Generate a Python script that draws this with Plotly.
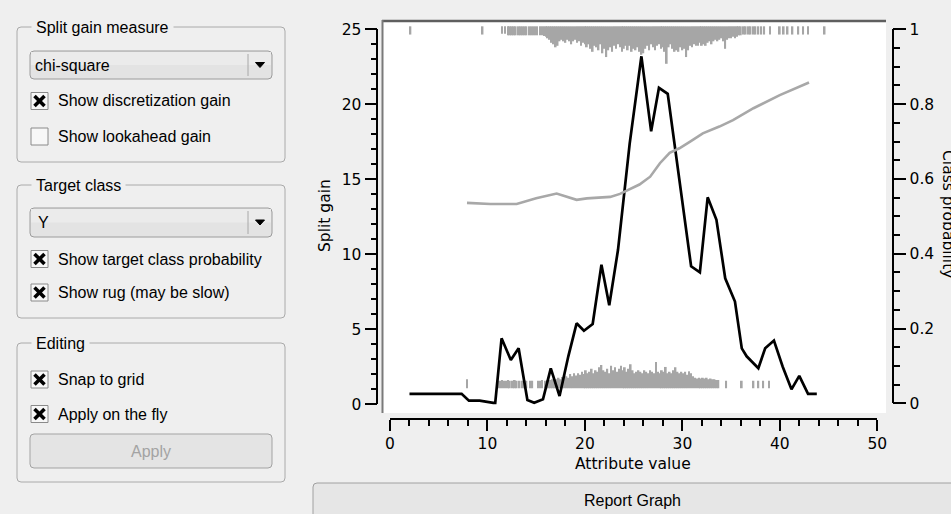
import plotly.graph_objects as go

W, H = 951, 514

# ---------------- data ----------------
gain_x = [2.0, 7.35, 8.1, 9.2, 10.6, 10.8, 11.45, 12.4, 13.2, 14.1, 14.8, 15.7, 16.5, 17.4,
          18.3, 19.15, 19.9, 20.8, 21.7, 22.5, 23.4, 24.6, 25.8, 26.8, 27.6, 28.5, 30.9, 31.8,
          32.6, 33.5, 34.4, 35.4, 36.1, 36.6, 37.8, 38.5, 39.4, 40.3, 41.2, 42.0, 42.9, 43.8]
gain_y = [0.7, 0.7, 0.24, 0.24, 0.1, 0.1, 4.4, 2.95, 3.73, 0.29, 0.1, 0.33, 2.4, 0.55,
          3.2, 5.4, 4.9, 5.35, 9.3, 6.6, 10.3, 17.4, 23.2, 18.2, 21.1, 20.7, 9.2, 8.8,
          13.8, 12.3, 8.4, 6.85, 3.73, 3.2, 2.4, 3.73, 4.25, 2.5, 1.0, 1.9, 0.69, 0.69]

prob_x = [7.9, 10.3, 13.0, 15.0, 17.1, 18.1, 19.15, 20.2, 22.6, 23.6, 24.6, 25.6, 26.7,
          27.7, 28.7, 29.7, 30.8, 32.1, 33.8, 35.2, 37.3, 40.0, 43.0]
prob_y = [0.536, 0.533, 0.533, 0.548, 0.561, 0.552, 0.544, 0.548, 0.552, 0.56, 0.572, 0.585,
          0.606, 0.642, 0.670, 0.682, 0.70, 0.722, 0.74, 0.757, 0.789, 0.824, 0.858]

# rug of target-class instances (hangs from the top), lengths in split-gain units
top_rug_x = [2.1, 9.5, 11.5, 11.8,
             12.1, 12.3, 12.5, 12.7, 12.9, 13.2, 13.4, 13.6, 13.8, 14.0, 14.3, 14.5, 14.7, 14.9, 15.1, 15.4, 15.6, 15.8, 16.0, 16.2, 16.4,
             16.6, 16.8, 17.0, 17.2, 17.4, 17.6, 17.8, 18.0, 18.2, 18.4, 18.6, 18.8, 19.0, 19.2, 19.4, 19.6, 19.8, 20.0, 20.2, 20.4,
             20.6, 20.8, 21.0, 21.2, 21.4, 21.6, 21.8, 22.0, 22.2, 22.4, 22.6, 22.8, 23.0, 23.2, 23.4, 23.6, 23.8, 24.0, 24.2, 24.4,
             24.6, 24.8, 25.0, 25.2, 25.4, 25.6, 25.8, 26.0, 26.2, 26.4, 26.6, 26.8, 27.0, 27.2, 27.4, 27.6, 27.8, 28.0, 28.2, 28.4,
             28.6, 28.8, 29.0, 29.2, 29.4, 29.6, 29.8, 30.0, 30.2, 30.4, 30.6, 30.8, 31.0, 31.2, 31.4, 31.6, 31.8, 32.0, 32.2, 32.4,
             32.6, 32.8, 33.0, 33.2, 33.4, 33.6, 33.8, 34.0, 34.2, 34.4, 34.6, 34.8, 35.0, 35.2, 35.4, 35.6, 35.8, 36.0, 36.3, 36.5,
             36.8, 37.0, 37.3, 37.5, 37.8, 38.1, 38.4, 39.0, 40.0, 40.4, 40.8, 41.3, 41.9, 42.4, 42.9, 44.6]
top_rug_len = [0.55, 0.55, 0.5, 0.5,
               0.6, 0.6, 0.6, 0.6, 0.6, 0.6, 0.6, 0.6, 0.6, 0.6, 0.6, 0.6, 0.6, 0.6, 0.6, 0.6, 0.6, 0.65, 0.7, 0.8, 0.9,
               1.1, 1.2, 1.4, 1.3, 1.0, 0.9, 1.0, 1.1, 0.9, 1.0, 1.2, 1.0, 0.9, 1.1, 1.0, 1.3, 1.1, 1.2, 1.4, 1.2,
               1.5, 1.7, 1.3, 1.4, 1.6, 1.2, 1.8, 1.5, 2.05, 1.6, 1.4, 1.7, 1.3, 1.5, 1.2, 1.4, 1.7, 1.5, 1.3, 1.6,
               1.3, 1.7, 1.5, 1.6, 1.4, 1.7, 1.9, 1.8, 1.5, 1.3, 1.6, 1.2, 1.4, 1.6, 1.3, 1.2, 1.5, 1.4, 1.7, 2.5,
               1.4, 1.2, 1.5, 1.7, 1.6, 1.7, 1.4, 1.6, 1.5, 2.05, 1.6, 1.3, 1.4, 1.2, 1.3, 1.3, 1.1, 1.3, 1.2, 1.3,
               1.1, 1.0, 1.2, 1.0, 0.9, 1.0, 0.9, 0.8, 1.0, 1.5, 0.9, 0.8, 0.8, 0.7, 0.8, 0.7, 0.6, 0.6, 0.55, 0.55,
               0.55, 0.55, 0.55, 0.55, 0.55, 0.55, 0.55, 0.55, 0.55, 0.55, 0.55, 0.55, 0.55, 0.55, 0.55, 0.55]

# rug of the other instances (rises from the bottom)
bot_rug_x = [7.9,
             11.1, 11.3, 11.5, 11.7, 11.9, 12.1, 12.3, 12.6, 12.8, 13.0, 13.3, 13.6, 13.8, 14.0, 14.4, 14.6,
             15.2, 15.4, 15.6, 15.9, 16.1, 16.3, 16.5, 16.7, 16.9, 17.1, 17.3, 17.5, 17.7, 17.9, 18.1, 18.3, 18.5, 18.7, 18.9, 19.1,
             19.3, 19.5, 19.7, 19.9, 20.1, 20.3, 20.5, 20.7, 20.9, 21.1, 21.3, 21.5, 21.7, 21.9, 22.1, 22.3, 22.5, 22.7, 22.9, 23.1,
             23.3, 23.5, 23.7, 23.9, 24.1, 24.3, 24.5, 24.7, 24.9, 25.1, 25.3, 25.5, 25.7, 25.9, 26.1, 26.3, 26.5, 26.7, 26.9, 27.1,
             27.3, 27.5, 27.7, 27.9, 28.1, 28.3, 28.5, 28.7, 28.9, 29.1, 29.3, 29.5, 29.7, 29.9, 30.1, 30.3, 30.5, 30.7, 30.9, 31.1,
             31.3, 31.5, 31.7, 31.9, 32.1, 32.3, 32.5, 32.7, 32.9, 33.1, 33.3, 33.5, 33.7, 34.5, 36.1, 37.3, 37.8, 38.3, 38.9]
bot_rug_len = [0.6,
               0.5, 0.5, 0.55, 0.5, 0.5, 0.55, 0.5, 0.5, 0.55, 0.5, 0.5, 0.5, 0.55, 0.5, 0.5, 0.5,
               0.5, 0.5, 0.55, 0.5, 0.55, 0.5, 0.55, 0.6, 0.55, 0.6, 0.7, 0.6, 0.75, 0.9, 0.8, 0.7, 0.95, 0.8, 1.0, 0.85,
               1.0, 0.9, 1.1, 0.95, 1.2, 1.0, 1.1, 1.3, 1.0, 1.2, 1.1, 1.4, 1.55, 1.2, 1.1, 1.3, 1.0, 1.5, 1.2, 1.4,
               1.1, 1.3, 1.5, 1.2, 1.4, 1.1, 1.3, 1.6, 1.2, 1.0, 1.1, 1.2, 1.1, 1.0, 1.2, 1.1, 1.0, 1.2, 1.1, 1.0,
               1.75, 1.1, 1.0, 1.2, 1.1, 1.42, 1.0, 1.1, 1.0, 1.2, 1.4, 1.1, 1.0, 1.1, 1.0, 1.1, 0.9, 1.13, 1.0, 0.8,
               0.7, 0.65, 0.7, 0.65, 0.7, 0.65, 0.7, 0.6, 0.65, 0.6, 0.6, 0.55, 0.55, 0.5, 0.5, 0.5, 0.5, 0.5, 0.5]

TOP_RUG_BASE = 25.2
BOT_RUG_BASE = 1.07

x_ticks = [0, 10, 20, 30, 40, 50]
gain_ticks = [0, 5, 10, 15, 20, 25]
prob_ticks = [0, 0.2, 0.4, 0.6, 0.8, 1]
prob_tick_text = ["0", "0.2", "0.4", "0.6", "0.8", "1"]

# ---------------- helpers (layout only) ----------------
def px(x):
    return x / W


def py(y):
    return 1 - y / H


def rrect_path(x0, y0, x1, y1, r):
    a, b, c, d = px(x0), px(x1), py(y0), py(y1)
    rx, ry = r / W, r / H
    return (f"M{a+rx},{c} L{b-rx},{c} Q{b},{c} {b},{c-ry} L{b},{d+ry} Q{b},{d} {b-rx},{d} "
            f"L{a+rx},{d} Q{a},{d} {a},{d+ry} L{a},{c-ry} Q{a},{c} {a+rx},{c} Z")


shapes = []
annotations = []
UI_FONT = dict(family="Liberation Sans, Arial, sans-serif", size=16, color="black")
CH_FONT = dict(family="DejaVu Sans, sans-serif", size=15.5, color="black")


def add_rrect(x0, y0, x1, y1, r, line, fill, width=1):
    shapes.append(dict(type="path", xref="paper", yref="paper", path=rrect_path(x0, y0, x1, y1, r),
                       line=dict(color=line, width=width), fillcolor=fill, layer="below"))


def add_line(x0, y0, x1, y1, color, width, layer="above"):
    shapes.append(dict(type="line", xref="paper", yref="paper", x0=px(x0), y0=py(y0), x1=px(x1), y1=py(y1),
                       line=dict(color=color, width=width), layer=layer))


def add_text(text, x, y, anchor="left", font=UI_FONT, bg=None, pad=1, angle=0):
    a = dict(text=text, x=px(x), y=py(y), xref="paper", yref="paper", xanchor=anchor, yanchor="middle",
             showarrow=False, font=font, borderpad=pad, textangle=angle)
    if bg:
        a["bgcolor"] = bg
    annotations.append(a)


BG = "#efefef"

# group boxes
for (y0, y1, title) in [(27, 162, "Split gain measure"), (185, 318, "Target class"), (343, 482, "Editing")]:
    add_rrect(17, y0, 285, y1, 4, "#aaaaaa", "rgba(0,0,0,0)")
    add_text(title, 31, y0, bg=BG, pad=4)

# combo boxes
for (y0, y1, label, tx) in [(51, 79, "chi-square", 34), (208, 237, "Y", 37)]:
    add_rrect(30, y0, 272, y1, 4, "#9c9c9c", "#e3e3e3")
    shapes.append(dict(type="rect", xref="paper", yref="paper", x0=px(31), x1=px(271), y0=py((y0 + y1) / 2),
                       y1=py(y0 + 1), line=dict(width=0), fillcolor="#ebebeb", layer="below"))
    add_line(248, y0 + 3, 248, y1 - 3, "#a8a8a8", 1)
    cy = (y0 + y1) / 2
    shapes.append(dict(type="path", xref="paper", yref="paper",
                       path=f"M{px(255.5)},{py(cy-2.5)} L{px(264.5)},{py(cy-2.5)} L{px(260)},{py(cy+2.5)} Z",
                       fillcolor="black", line=dict(color="black", width=1)))
    add_text(label, tx - 1, cy)

# checkboxes
checks = [(101, True, "Show discretization gain"), (136.5, False, "Show lookahead gain"),
          (259, True, "Show target class probability"), (292.5, True, "Show rug (may be slow)"),
          (379.5, True, "Snap to grid"), (414, True, "Apply on the fly")]
for cy, on, label in checks:
    shapes.append(dict(type="rect", xref="paper", yref="paper", x0=px(31), x1=px(48), y0=py(cy - 8.5),
                       y1=py(cy + 8.5), line=dict(color="#8a8a8a", width=1), fillcolor="#f7f7f7"))
    if on:
        add_line(34.5, cy - 5, 44.5, cy + 5, "black", 3.6)
        add_line(44.5, cy - 5, 34.5, cy + 5, "black", 3.6)
    add_text(label, 56, cy)

# Apply button
add_rrect(30, 434, 272, 468, 4, "#a3a3a3", "#e4e4e4")
add_text("Apply", 151, 451, anchor="center", font=dict(UI_FONT, color="#a3a3a3"))

# Report Graph button
add_rrect(313, 483, 975, 530, 4, "#a0a0a0", "#e6e6e6")
add_text("Report Graph", 632, 500, anchor="center")

# plot area background and sunken frame
shapes.append(dict(type="rect", xref="paper", yref="paper", x0=px(382), x1=px(886), y0=py(413), y1=py(20),
                   line=dict(width=0), fillcolor="white", layer="below"))
add_line(382, 21, 886, 21, "#5f5f5f", 2.5)
add_line(382.5, 20, 382.5, 413, "#7a7a7a", 2)

# axis titles
add_text("Split gain", 325, 216, anchor="center", font=CH_FONT, angle=-90)
add_text("Attribute value", 633, 464, anchor="center", font=CH_FONT)
add_text("Class probability", 948, 214, anchor="center", font=CH_FONT, angle=90)

# ---------------- traces ----------------
fig = go.Figure()
RUG = "#a6a6a6"
fig.add_trace(go.Bar(x=top_rug_x, y=[-v for v in top_rug_len], base=TOP_RUG_BASE, width=0.18,
                     marker=dict(color=RUG, line=dict(width=0)), xaxis="x", yaxis="y", hoverinfo="skip"))
fig.add_trace(go.Bar(x=bot_rug_x, y=bot_rug_len, base=BOT_RUG_BASE, width=0.18,
                     marker=dict(color=RUG, line=dict(width=0)), xaxis="x", yaxis="y", hoverinfo="skip"))
fig.add_trace(go.Scatter(x=prob_x, y=prob_y, mode="lines", line=dict(color="#a8a8a8", width=2.6),
                         xaxis="x", yaxis="y2"))
fig.add_trace(go.Scatter(x=gain_x, y=gain_y, mode="lines", line=dict(color="black", width=2.7),
                         xaxis="x", yaxis="y"))
# carriers for the decorative axes
fig.add_trace(go.Scatter(x=[None], y=[None], xaxis="x2", yaxis="y3", hoverinfo="skip"))
fig.add_trace(go.Scatter(x=[None], y=[None], xaxis="x2", yaxis="y4", hoverinfo="skip"))

axis_common = dict(showline=True, linecolor="black", linewidth=1.5, ticks="outside", tickcolor="black",
                   tickwidth=1.5, showgrid=False, zeroline=False, tickfont=CH_FONT, fixedrange=True,
                   automargin=False)
hidden = dict(visible=False, fixedrange=True, automargin=False)

fig.update_layout(
    template="none",
    width=W, height=H, autosize=False, margin=dict(l=0, r=0, t=0, b=0, pad=0),
    paper_bgcolor=BG, plot_bgcolor="rgba(0,0,0,0)", showlegend=False, barmode="overlay",
    xaxis=dict(domain=[382 / W, 886 / W], range=[-0.82, 50.9], **hidden),
    yaxis=dict(domain=[1 - 413 / H, 1 - 20 / H], range=[-0.58, 25.62], **hidden),
    yaxis2=dict(overlaying="y", anchor="x", range=[-0.026, 1.025], **hidden),
    xaxis2=dict(domain=[390 / W, 877.3 / W], range=[0, 50], anchor="free", position=1 - 419 / H,
                tickvals=x_ticks, ticklen=11,
                minor=dict(dtick=2, tick0=0, ticklen=6, tickwidth=1.5, tickcolor="black", ticks="outside"),
                **axis_common),
    yaxis3=dict(domain=[1 - 404.3 / H, 1 - 29.2 / H], range=[0, 25], anchor="free", position=377.3 / W,
                side="left", tickvals=gain_ticks, ticklen=12,
                minor=dict(dtick=1, tick0=0, ticklen=6, tickwidth=1.5, tickcolor="black", ticks="outside"),
                **axis_common),
    yaxis4=dict(domain=[1 - 403.3 / H, 1 - 29.3 / H], range=[0, 1], anchor="free", position=892.7 / W,
                side="right", tickvals=prob_ticks, ticktext=prob_tick_text, ticklen=13,
                minor=dict(dtick=0.05, tick0=0, ticklen=7, tickwidth=1.5, tickcolor="black", ticks="outside"),
                **axis_common),
    shapes=shapes, annotations=annotations,
)

fig.write_html("out.html", config={"displayModeBar": False})
